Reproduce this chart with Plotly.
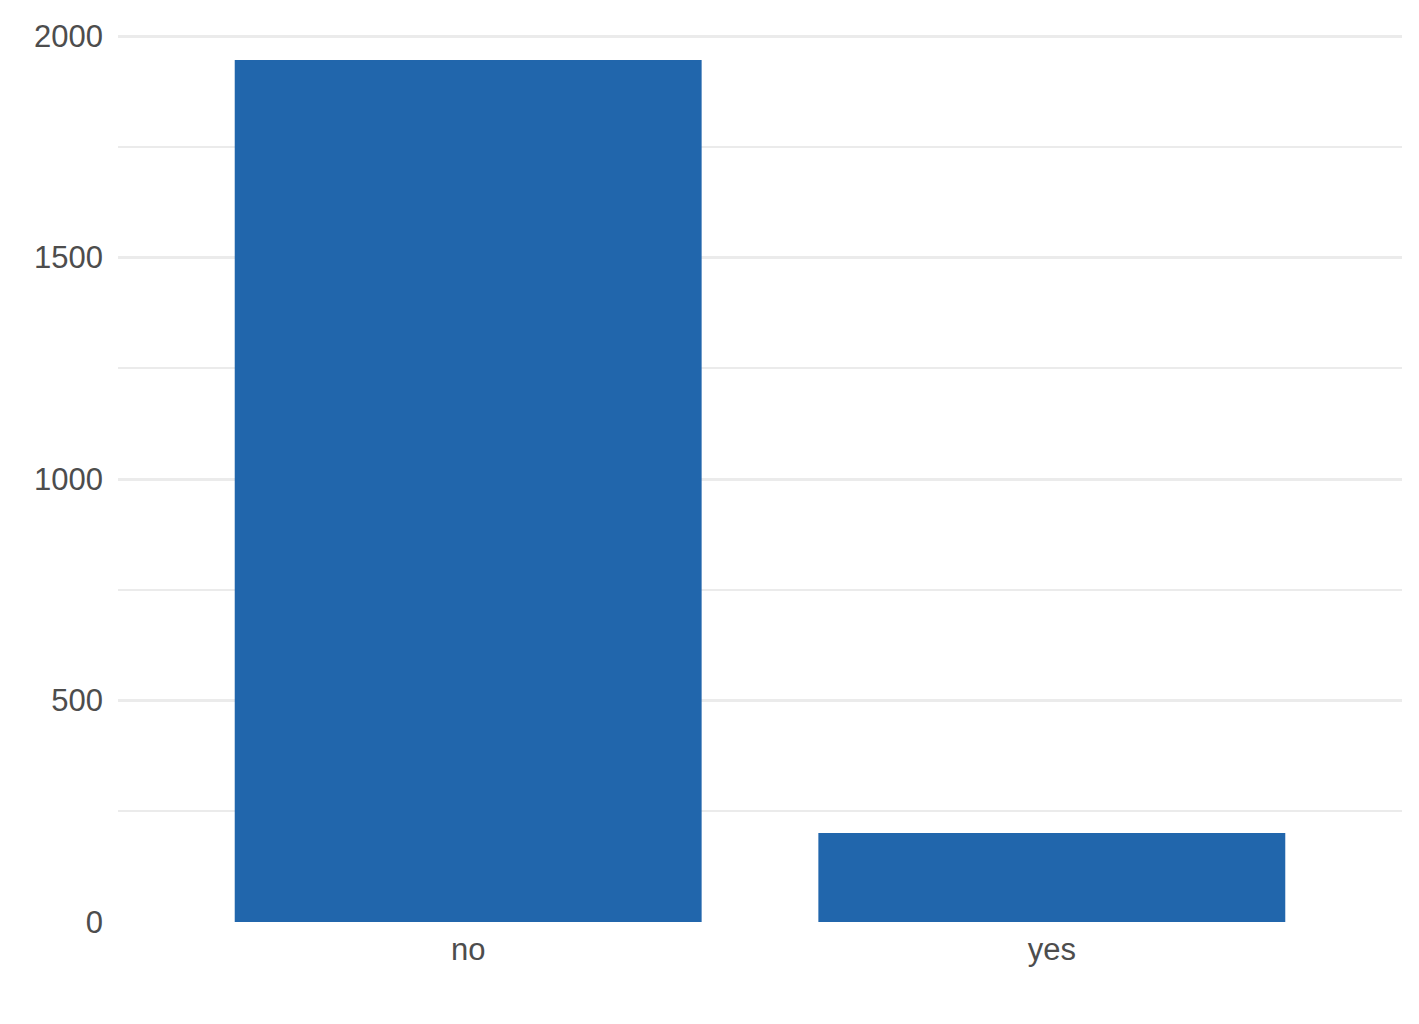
import plotly.graph_objects as go

categories = ["no", "yes"]
counts = [1946, 201]
y_ticks = [0, 500, 1000, 1500, 2000]

fig = go.Figure()
fig.add_trace(go.Bar(x=categories, y=counts, marker=dict(color="#2166ac", line=dict(width=0)), width=0.8))

fig.update_layout(
    width=1419, height=1024,
    margin=dict(l=110, r=25, t=9, b=110),
    plot_bgcolor="white", paper_bgcolor="white",
    showlegend=False,
    font=dict(family="Liberation Sans, Arial, sans-serif", size=31, color="#4d4d4d"),
    bargap=0.2,
)
fig.update_xaxes(range=[-0.6, 1.6], showgrid=False, showline=False, zeroline=False,
                 ticks="", ticklabelstandoff=6, tickfont=dict(size=31, color="#4d4d4d"))
fig.update_yaxes(range=[0, 2043.3], tickvals=y_ticks, ticktext=[str(v) for v in y_ticks],
                 showgrid=True, gridcolor="#ebebeb", gridwidth=3, zeroline=False, showline=False,
                 ticks="", ticklabelstandoff=14, tickfont=dict(size=31, color="#4d4d4d"),
                 minor=dict(tickvals=[250, 750, 1250, 1750], showgrid=True, gridcolor="#ebebeb", gridwidth=1.5))

fig.write_html("out.html")
